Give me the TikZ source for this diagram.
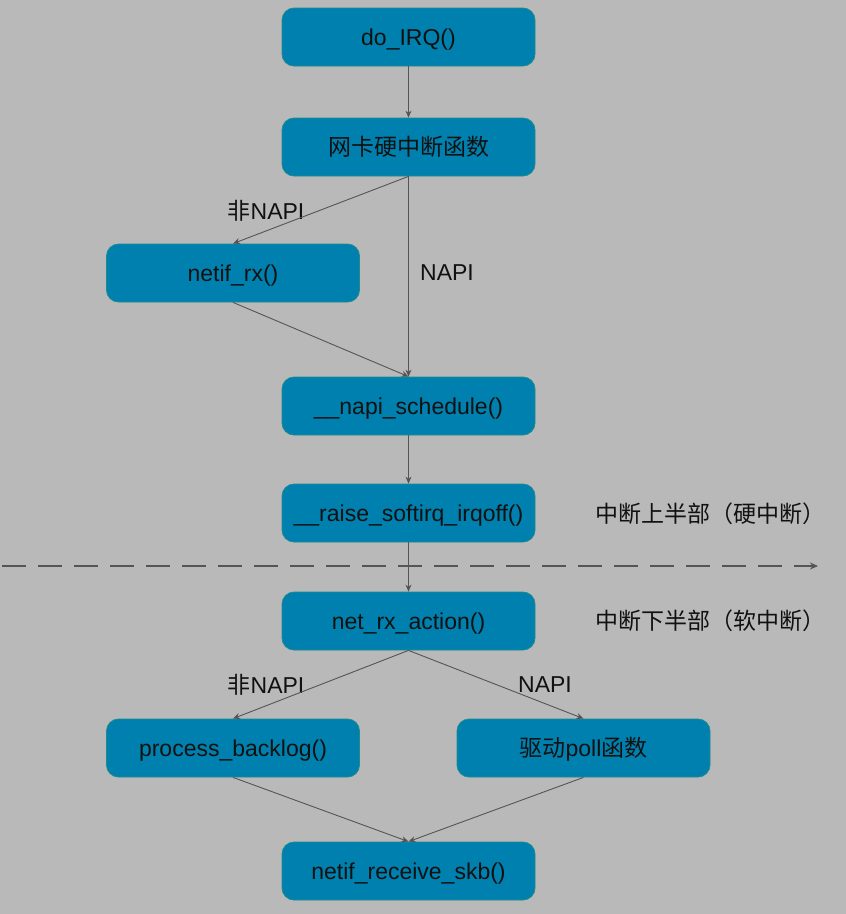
\documentclass[tikz,border=0pt]{standalone}
\usepackage{fontspec}
\setmainfont{Liberation Sans}
\newfontfamily\cjk{Noto Sans CJK SC}
\usetikzlibrary{arrows.meta}
\definecolor{bg}{HTML}{B9B9B9}
\definecolor{boxfill}{HTML}{0080AE}
\definecolor{boxline}{HTML}{1E8C8C}
\definecolor{arr}{HTML}{555555}
\definecolor{txt}{HTML}{111111}
\begin{document}
\begin{tikzpicture}[x=1pt,y=-1pt,
  box/.style={draw=boxline, line width=0.8pt, fill=boxfill, rounded corners=12pt,
    minimum width=253pt, minimum height=58pt, inner sep=0pt, text=txt,
    text height=17pt, text depth=0pt,
    font=\fontsize{23}{27}\selectfont},
  lbl/.style={font=\fontsize{23}{27}\selectfont, inner sep=0pt, text=txt},
  conn/.style={draw=arr, line width=0.9pt, -{Stealth[length=7pt,width=6pt]}}]
\fill[bg] (0,0) rectangle (846,914);
\useasboundingbox (0,0) rectangle (846,914);

\node[box] (irq)   at (408.5,37)  {do\_IRQ()};
\node[box] (hw)    at (408.5,147) {\cjk 网卡硬中断函数};
\node[box] (rx)    at (233,273)   {netif\_rx()};
\node[box] (napi)  at (408.5,406) {\_\_napi\_schedule()};
\node[box] (raise) at (408.5,513) {\_\_raise\_softirq\_irqoff()};
\node[box] (act)   at (408.5,621) {net\_rx\_action()};
\node[box] (pb)    at (233,748)   {process\_backlog()};
\node[box] (poll)  at (583.5,748) {{\cjk 驱动}poll{\cjk 函数}};
\node[box] (recv)  at (408.5,871) {netif\_receive\_skb()};

\node[lbl] (l1) at (266,211) {{\cjk 非}NAPI};
\node[lbl] (l2) at (447,273) {NAPI};
\node[lbl] (l3) at (266,685) {{\cjk 非}NAPI};
\node[lbl] (l4) at (545,685) {NAPI};
\node[lbl] (top) at (710,514) {\cjk 中断上半部（硬中断）};
\node[lbl] (bot) at (710,621) {\cjk 中断下半部（软中断）};

\coordinate (dl) at (2,566);
\coordinate (dr) at (818,566);
\draw[draw=arr, line width=1.2pt, dash pattern=on 24pt off 12pt, -{Stealth[length=8pt,width=7pt]}] (dl) -- (dr);

\draw[conn] (irq.south) -- (hw.north);
\draw[conn] (hw.south) -- (rx.north);
\draw[conn] (hw.south) -- (napi.north);
\draw[conn] (rx.south) -- (napi.north);
\draw[conn] (napi.south) -- (raise.north);
\draw[conn] (raise.south) -- (act.north);
\draw[conn] (act.south) -- (pb.north);
\draw[conn] (act.south) -- (poll.north);
\draw[conn] (pb.south) -- (recv.north);
\draw[conn] (poll.south) -- (recv.north);
\end{tikzpicture}
\end{document}
